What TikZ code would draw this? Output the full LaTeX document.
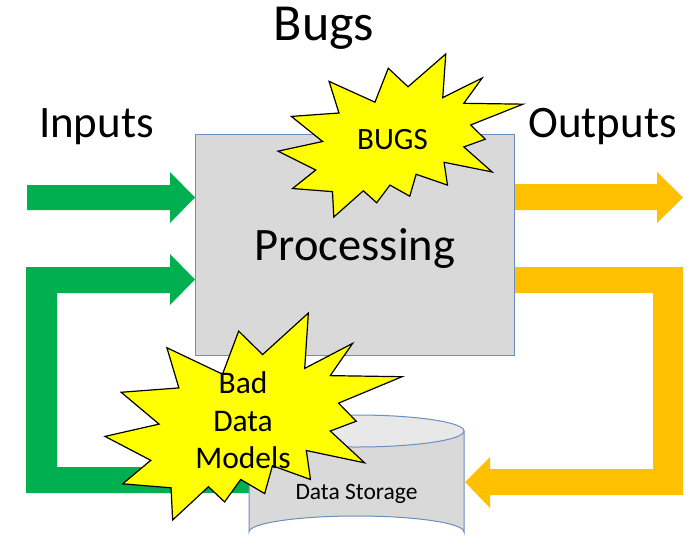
\documentclass[tikz,border=0pt]{standalone}
\usepackage{fontspec}
\setmainfont{Carlito}
\definecolor{flowgreen}{HTML}{00B050}
\definecolor{floworange}{HTML}{FFC000}
\definecolor{boxgray}{HTML}{D9D9D9}
\definecolor{lidgray}{HTML}{E8E8E8}
\definecolor{edgeblue}{HTML}{6C8EBF}
\definecolor{burst}{HTML}{FFFF00}
\tikzset{
  inflow/.style={fill=flowgreen},
  outflow/.style={fill=floworange},
  procbox/.style={draw=edgeblue, line width=1pt, fill=boxgray},
  burstshape/.style={draw=black, line width=1.2pt, fill=burst, line join=miter},
  lbl/.style={inner sep=0pt, anchor=base, text=black},
}
% 28-point explosion outline on a unit box (y pointing down)
\newcommand{\burstpath}{%
  (0.5307,0.2009) -- (0.4501,0.0874) -- (0.3957,0.2955) -- (0.2085,0.1679) --
  (0.2488,0.3619) -- (0.0544,0.3829) -- (0.1821,0.5367) -- (0,0.5961) --
  (0.1541,0.7117) -- (0.0594,0.8252) -- (0.2224,0.8444) -- (0.2277,1) --
  (0.3484,0.8391) -- (0.4027,0.9126) -- (0.4570,0.8042) -- (0.5377,0.8724) --
  (0.5638,0.7378) -- (0.6918,0.8042) -- (0.6778,0.6643) -- (0.8740,0.7237) --
  (0.7584,0.5700) -- (0.8458,0.5228) -- (0.7864,0.4354) -- (1,0.3077) --
  (0.7584,0.3025) -- (0.8336,0.1469) -- (0.6724,0.2675) -- (0.6847,0) -- cycle}
\begin{document}
\begin{tikzpicture}[x=1pt, y=-1pt]
\useasboundingbox (0,0) rectangle (692,550);

% input arrow and feedback arrow from storage
\fill[inflow] (27,185) -- (170,185) -- (170,172) -- (195,197.5) -- (170,223)
  -- (170,210) -- (27,210) -- cycle;
\fill[inflow] (250,467) -- (57,467) -- (57,293) -- (170,293) -- (170,305)
  -- (195,279.5) -- (170,254) -- (170,267) -- (26,267) -- (26,493)
  -- (250,493) -- cycle;

% output arrow and arrow down into storage
\fill[outflow] (514,184) -- (657,184) -- (657,172) -- (683,197.5) -- (657,223)
  -- (657,210) -- (514,210) -- cycle;
\fill[outflow] (514,267) -- (683,267) -- (683,495) -- (490,495) -- (490,508)
  -- (465,482) -- (490,457) -- (490,469) -- (653,469) -- (653,293)
  -- (514,293) -- cycle;

% processing block
\node[procbox, minimum width=319pt, minimum height=221pt, inner sep=0pt]
  (proc) at (354.5,244.5) {};
\node[lbl, font=\fontsize{46.5}{56}\selectfont] (proctext) at (355,260) {Processing};

% data storage cylinder
\path[procbox] (249,431) -- (249,532) arc[start angle=180, end angle=360,
  x radius=107.5, y radius=16] -- (464,431) -- cycle;
\path[procbox, fill=lidgray] (356.5,431) ellipse[x radius=107.5, y radius=16];
\node[lbl, font=\fontsize{23.5}{28}\selectfont] (store) at (356.5,499) {Data Storage};

% bursts
\begin{scope}[shift={(278,54)}, xscale=245, yscale=163]
  \draw[burstshape] \burstpath;
\end{scope}
\node[lbl, font=\fontsize{31}{37}\selectfont] (bugs) at (392.5,149) {BUGS};

\begin{scope}[shift={(105,313)}, xscale=297, yscale=207]
  \draw[burstshape] \burstpath;
\end{scope}
\node[lbl, font=\fontsize{31.5}{37.5}\selectfont] (bad1) at (243,393) {Bad};
\node[lbl, font=\fontsize{31.5}{37.5}\selectfont] (bad2) at (243,431) {Data};
\node[lbl, font=\fontsize{31.5}{37.5}\selectfont] (bad3) at (243,468) {Models};

% headings
\node[lbl, font=\fontsize{52}{62}\selectfont] (title) at (324,40) {Bugs};
\node[lbl, font=\fontsize{45}{54}\selectfont] (inputs) at (96.5,137) {Inputs};
\node[lbl, font=\fontsize{45}{54}\selectfont] (outputs) at (602.5,137) {Outputs};
\end{tikzpicture}
\end{document}
